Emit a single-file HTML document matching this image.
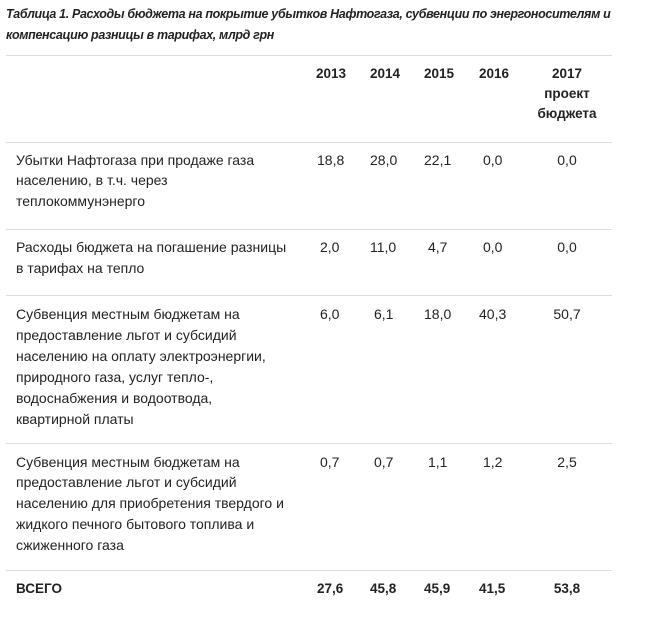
<!DOCTYPE html>
<html><head><meta charset="utf-8"><style>
body{margin:0;width:653px;height:629px;background:#fff;position:relative;overflow:hidden;font-family:"Liberation Sans",sans-serif;color:#222;}
.t{position:absolute;font-size:14px;line-height:16px;white-space:nowrap;}
.ti{font-style:italic;font-weight:bold;font-size:12.5px;color:#222;letter-spacing:-0.35px}
.b{font-weight:bold;font-size:13.5px}
.hl{position:absolute;left:6px;width:606px;height:1px;background:#ddd}
.c{text-align:center;width:80px}
</style></head><body>
<div class="t ti" style="left:6px;top:6px">Таблица 1. Расходы бюджета на покрытие убытков Нафтогаза, субвенции по энергоносителям и</div>
<div class="t ti" style="left:6px;top:27px">компенсацию разницы в тарифах, млрд грн</div>
<div class="hl" style="top:55px"></div>
<div class="t b" style="left:316px;top:66px">2013</div>
<div class="t b" style="left:370px;top:66px">2014</div>
<div class="t b" style="left:424px;top:66px">2015</div>
<div class="t b" style="left:479px;top:66px">2016</div>
<div class="t b c" style="left:527px;top:66px">2017</div>
<div class="t b c" style="left:527px;top:86px">проект</div>
<div class="t b c" style="left:527px;top:106px">бюджета</div>
<div class="hl" style="top:142px"></div>
<div class="t" style="left:16px;top:152px">Убытки Нафтогаза при продаже газа</div>
<div class="t" style="left:16px;top:172px">населению, в т.ч. через</div>
<div class="t" style="left:16px;top:193px">теплокоммунэнерго</div>
<div class="t" style="left:317px;top:152px">18,8</div><div class="t" style="left:370px;top:152px">28,0</div><div class="t" style="left:424px;top:152px">22,1</div><div class="t" style="left:483px;top:152px">0,0</div><div class="t c" style="left:527px;top:152px">0,0</div>
<div class="hl" style="top:229px"></div>
<div class="t" style="left:16px;top:239px">Расходы бюджета на погашение разницы</div>
<div class="t" style="left:16px;top:260px">в тарифах на тепло</div>
<div class="t" style="left:320px;top:239px">2,0</div><div class="t" style="left:370px;top:239px">11,0</div><div class="t" style="left:428px;top:239px">4,7</div><div class="t" style="left:483px;top:239px">0,0</div><div class="t c" style="left:527px;top:239px">0,0</div>
<div class="hl" style="top:295px"></div>
<div class="t" style="left:16px;top:306px">Субвенция местным бюджетам на</div>
<div class="t" style="left:16px;top:327px">предоставление льгот и субсидий</div>
<div class="t" style="left:16px;top:348px">населению на оплату электроэнергии,</div>
<div class="t" style="left:16px;top:369px">природного газа, услуг тепло-,</div>
<div class="t" style="left:16px;top:390px">водоснабжения и водоотвода,</div>
<div class="t" style="left:16px;top:411px">квартирной платы</div>
<div class="t" style="left:320px;top:306px">6,0</div><div class="t" style="left:374px;top:306px">6,1</div><div class="t" style="left:424px;top:306px">18,0</div><div class="t" style="left:479px;top:306px">40,3</div><div class="t c" style="left:527px;top:306px">50,7</div>
<div class="hl" style="top:443px"></div>
<div class="t" style="left:16px;top:454px">Субвенция местным бюджетам на</div>
<div class="t" style="left:16px;top:474px">предоставление льгот и субсидий</div>
<div class="t" style="left:16px;top:495px">населению для приобретения твердого и</div>
<div class="t" style="left:16px;top:516px">жидкого печного бытового топлива и</div>
<div class="t" style="left:16px;top:537px">сжиженного газа</div>
<div class="t" style="left:320px;top:454px">0,7</div><div class="t" style="left:374px;top:454px">0,7</div><div class="t" style="left:428px;top:454px">1,1</div><div class="t" style="left:483px;top:454px">1,2</div><div class="t c" style="left:527px;top:454px">2,5</div>
<div class="hl" style="top:570px"></div>
<div class="t b" style="left:16px;top:581px">ВСЕГО</div>
<div class="t b" style="left:317px;top:581px">27,6</div><div class="t b" style="left:370px;top:581px">45,8</div><div class="t b" style="left:424px;top:581px">45,9</div><div class="t b" style="left:479px;top:581px">41,5</div><div class="t b c" style="left:527px;top:581px">53,8</div>
</body></html>
